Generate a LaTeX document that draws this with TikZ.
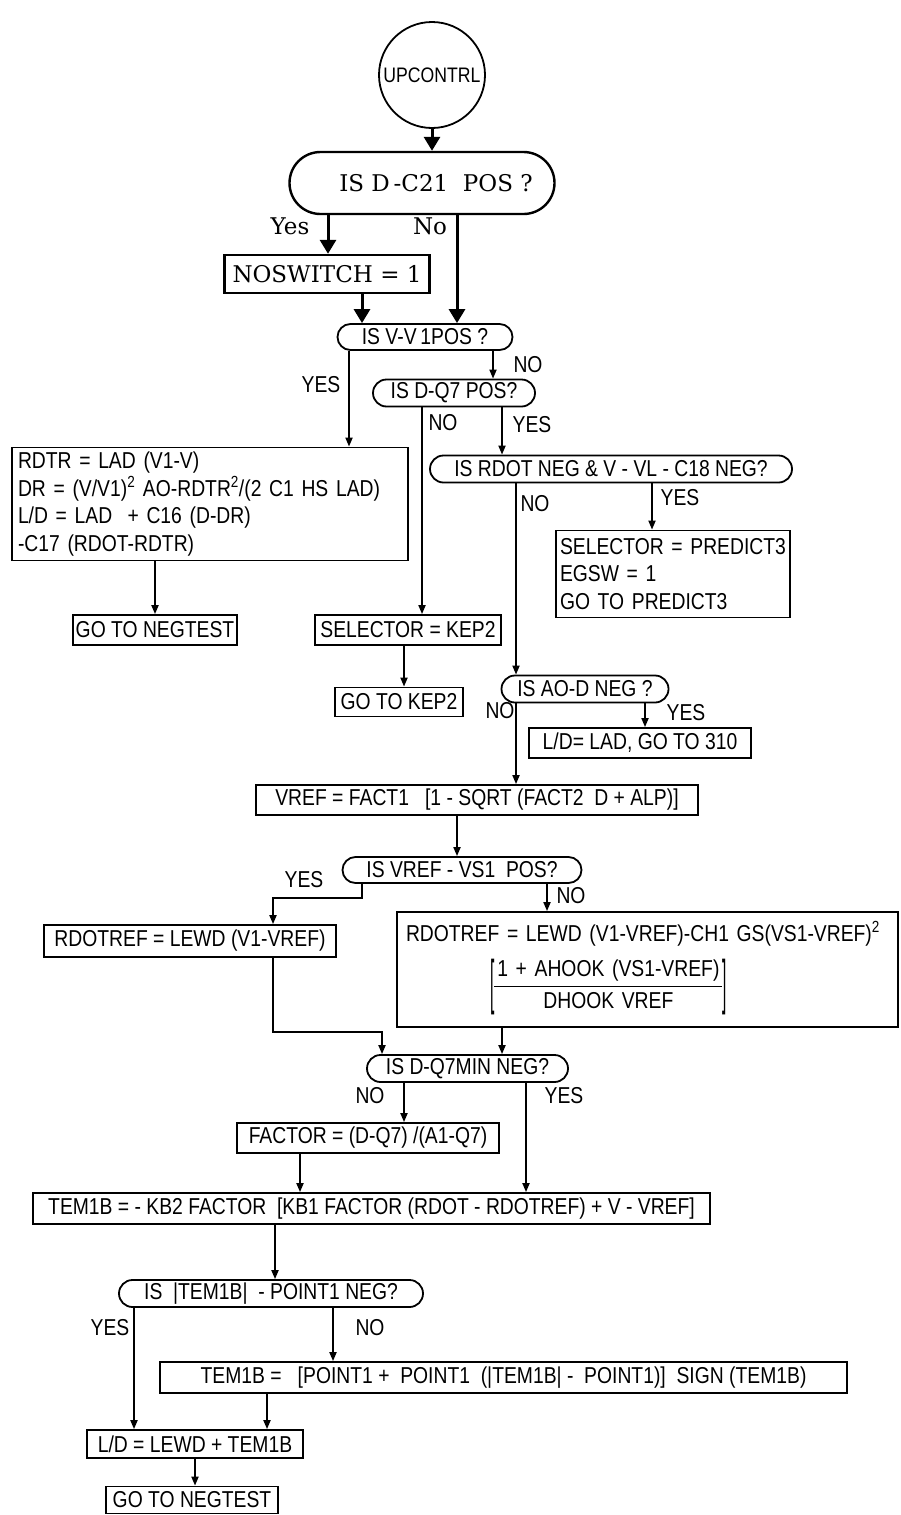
\documentclass[tikz,border=0pt]{standalone}
\usepackage{amsmath}
\usepackage{fontspec}
\setmainfont{DejaVu Serif}
\newfontfamily\condsf[FakeStretch=0.84]{Liberation Sans}
\usetikzlibrary{arrows.meta,shapes.misc}
\newcommand\flowfont{\condsf\fontsize{23}{27.5}\selectfont}
\newcommand\headfont{\rmfamily\fontsize{23}{27}\selectfont}
\newcommand\tallbrack[1]{\raisebox{-10pt}{\scalebox{0.8}[2.6]{#1}}}

\begin{document}
\begin{tikzpicture}[x=1pt, y=-1pt,
          box/.style = {draw, line width=1.8pt, inner sep=0pt, font=\flowfont},
          dec/.style = {draw, rounded rectangle, line width=1.8pt, inner sep=0pt, font=\flowfont},
          head/.style = {font=\headfont, line width=2.4pt},
          lbl/.style = {font=\flowfont, inner sep=0pt},
          hlbl/.style = {font=\headfont, inner sep=0pt},
          arr/.style = {-{Triangle[length=9pt,width=7pt]}, line width=1.8pt},
          bigarr/.style = {-{Triangle[length=14pt,width=16pt]}, line width=3pt},
        ]
        \useasboundingbox (0,0) rectangle (900,1515);

        % columns of the vertical connectors
        \coordinate (yes1) at (328,0);
        \coordinate (no1)  at (457,0);
        \coordinate (ns)   at (362,0);
        \coordinate (yes2) at (349,0);
        \coordinate (no2)  at (493,0);
        \coordinate (no3)  at (422,0);
        \coordinate (yes3) at (502,0);
        \coordinate (yes4) at (652,0);
        \coordinate (no4)  at (516,0);
        \coordinate (kp)   at (404,0);
        \coordinate (yes5) at (645,0);
        \coordinate (vr)   at (457,0);
        \coordinate (yes6) at (362,0);
        \coordinate (no6)  at (547,0);
        \coordinate (rr)   at (273,0);
        \coordinate (m7)   at (382,0);
        \coordinate (big)  at (502,0);
        \coordinate (no7)  at (404,0);
        \coordinate (yes7) at (526,0);
        \coordinate (fc)   at (300,0);
        \coordinate (tb)   at (275,0);
        \coordinate (yes8) at (134,0);
        \coordinate (no8)  at (333,0);
        \coordinate (tb2)  at (267,0);
        \coordinate (k1)   at (0,898);
        \coordinate (k2)   at (0,1032);

        \node[draw, circle, line width=1.8pt, minimum size=106pt, inner sep=0pt,
              font=\condsf\fontsize{21}{25}\selectfont] (start) at (432,75) {UPCONTRL};
        \node[dec, head, minimum width=265pt, minimum height=62pt] (q1) at (422,183) {\hspace*{28pt}IS D\,-C21\ \ POS ?};
        \node[box, head, minimum width=205pt, minimum height=38pt] (nosw) at (327,274) {NOSWITCH = 1};
        \node[dec, minimum width=175pt, minimum height=26pt] (q2) at (425,337) {IS V-V\,1POS ?};
        \node[dec, minimum width=162pt, minimum height=27pt] (q3) at (454,393) {IS D-Q7 POS?};
        \node[dec, minimum width=362pt, minimum height=27pt] (q4) at (611,469) {IS RDOT NEG \& V - VL - C18 NEG?};
        \node[box, align=left, text width=226pt, inner xsep=4pt, minimum height=87pt] (pred) at (673,574)
             {SELECTOR = PREDICT3\\EGSW = 1\\GO TO PREDICT3};
        \node[box, align=left, text width=384pt, inner xsep=6pt, minimum height=113pt] (rdtr) at (210,504)
             {RDTR = LAD (V1-V)\\
              DR = (V/V1)\textsuperscript{2} AO-RDTR\textsuperscript{2}/(2 C1 HS LAD)\\
              L/D = LAD \ + C16 (D-DR)\\
              -C17 (RDOT-RDTR)};
        \node[box, minimum width=164pt, minimum height=30pt] (neg1) at (155,630) {GO TO NEGTEST};
        \node[box, minimum width=186pt, minimum height=30pt] (kep2) at (408,630) {SELECTOR = KEP2};
        \node[box, minimum width=128pt, minimum height=29pt] (gokep2) at (399,702) {GO TO KEP2};
        \node[dec, minimum width=167pt, minimum height=27pt] (q5) at (585,689) {IS AO-D NEG ?};
        \node[box, minimum width=222pt, minimum height=30pt] (ldlad) at (640,743) {L/D= LAD, GO TO 310};
        \node[box, minimum width=442pt, minimum height=30pt] (vref) at (477,800) {VREF = FACT1 \ \ [1 - SQRT (FACT2 \ D + ALP)]};
        \node[dec, minimum width=239pt, minimum height=26pt] (q6) at (462,870) {IS VREF - VS1 \ POS?};
        \node[box, minimum width=292pt, minimum height=32pt] (rdref) at (190,941) {RDOTREF = LEWD (V1-VREF)};
        \node[box, align=left, text width=483pt, inner xsep=9pt, minimum height=115pt] (rdref2) at (647.5,969.5)
             {RDOTREF = LEWD (V1-VREF)-CH1 GS(VS1-VREF)\textsuperscript{2}\\[8pt]
              \hspace*{84pt}\tallbrack{[}{\setlength\arrayrulewidth{1.4pt}\renewcommand\arraystretch{1.12}%
              \begin{tabular}[c]{@{\hspace{3pt}}c@{\hspace{3pt}}}1 + AHOOK (VS1-VREF)\\\hline DHOOK VREF\end{tabular}}\tallbrack{]}};
        \node[dec, minimum width=201pt, minimum height=27pt] (q7) at (467.5,1068.5) {IS D-Q7MIN NEG?};
        \node[box, minimum width=262pt, minimum height=30pt] (factor) at (368,1138) {FACTOR = (D-Q7) /(A1-Q7)};
        \node[box, minimum width=677pt, minimum height=31pt] (tem1b) at (371.5,1208.5)
             {TEM1B = - KB2 FACTOR \ [KB1 FACTOR (RDOT - RDOTREF) + V - VREF]};
        \node[dec, minimum width=304pt, minimum height=27pt] (q8) at (271,1293.5) {IS \ |TEM1B| \ - POINT1 NEG?};
        \node[box, minimum width=687pt, minimum height=31pt] (tem1b2) at (503.5,1377.5)
             {TEM1B = \ \ [POINT1 + \ POINT1 \ (|TEM1B| - \ POINT1)] \ SIGN (TEM1B)};
        \node[box, minimum width=216pt, minimum height=28pt] (ld) at (195,1444) {L/D = LEWD + TEM1B};
        \node[box, minimum width=172pt, minimum height=27pt] (neg2) at (192,1500) {GO TO NEGTEST};

        % branch labels
        \node[hlbl] (lyes1) at (290,226) {Yes};
        \node[hlbl] (lno1)  at (430,226) {No};
        \node[lbl] (lyes2) at (321,385) {YES};
        \node[lbl] (lno2)  at (528,365) {NO};
        \node[lbl] (lno3)  at (443,423) {NO};
        \node[lbl] (lyes3) at (532,425) {YES};
        \node[lbl] (lno4)  at (535,504) {NO};
        \node[lbl] (lyes4) at (680,498) {YES};
        \node[lbl] (lno5)  at (500,711) {NO};
        \node[lbl] (lyes5) at (686,713) {YES};
        \node[lbl] (lyes6) at (304,880) {YES};
        \node[lbl] (lno6)  at (571,896) {NO};
        \node[lbl] (lno7)  at (370,1096) {NO};
        \node[lbl] (lyes7) at (564,1096) {YES};
        \node[lbl] (lyes8) at (110,1328) {YES};
        \node[lbl] (lno8)  at (370,1328) {NO};

        \draw[bigarr] (start.south) -- (q1.north -| start);
        \draw[bigarr] (q1.south -| yes1) -- (nosw.north -| yes1);
        \draw[bigarr] (q1.south -| no1) -- (q2.north -| no1);
        \draw[bigarr] (nosw.south -| ns) -- (q2.north -| ns);
        \draw[arr] (q2.south -| yes2) -- (rdtr.north -| yes2);
        \draw[arr] (q2.south -| no2) -- (q3.north -| no2);
        \draw[arr] (q3.south -| no3) -- (kep2.north -| no3);
        \draw[arr] (q3.south -| yes3) -- (q4.north -| yes3);
        \draw[arr] (q4.south -| yes4) -- (pred.north -| yes4);
        \draw[arr] (q4.south -| no4) -- (q5.north -| no4);
        \draw[arr] (rdtr.south -| neg1) -- (neg1.north);
        \draw[arr] (kep2.south -| kp) -- (gokep2.north -| kp);
        \draw[arr] (q5.south -| no4) -- (vref.north -| no4);
        \draw[arr] (q5.south -| yes5) -- (ldlad.north -| yes5);
        \draw[arr] (vref.south -| vr) -- (q6.north -| vr);
        \draw[arr] (q6.south -| yes6) |- (k1 -| rr) -- (rdref.north -| rr);
        \draw[arr] (q6.south -| no6) -- (rdref2.north -| no6);
        \draw[arr] (rdref.south -| rr) |- (k2 -| m7) -- (q7.north -| m7);
        \draw[arr] (rdref2.south -| big) -- (q7.north -| big);
        \draw[arr] (q7.south -| no7) -- (factor.north -| no7);
        \draw[arr] (q7.south -| yes7) -- (tem1b.north -| yes7);
        \draw[arr] (factor.south -| fc) -- (tem1b.north -| fc);
        \draw[arr] (tem1b.south -| tb) -- (q8.north -| tb);
        \draw[arr] (q8.south -| yes8) -- (ld.north -| yes8);
        \draw[arr] (q8.south -| no8) -- (tem1b2.north -| no8);
        \draw[arr] (tem1b2.south -| tb2) -- (ld.north -| tb2);
        \draw[arr] (ld.south) -- (neg2.north -| ld);
      \end{tikzpicture}
\end{document}
